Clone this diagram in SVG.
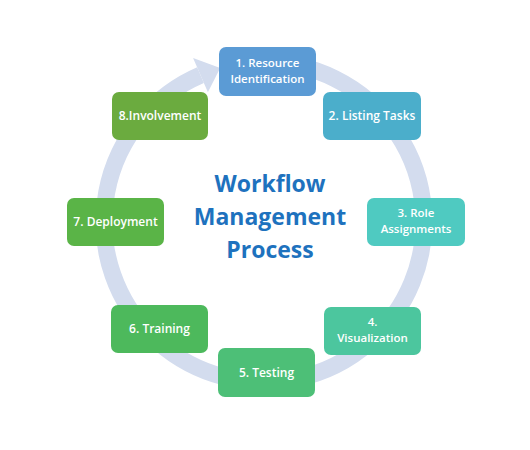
<svg xmlns="http://www.w3.org/2000/svg" width="530" height="450" viewBox="0 0 530 450">
  <style>
    .box { stroke: none; }
    .lbl { font-family: "Open Sans", "Liberation Sans", sans-serif; font-size: 12px; font-weight: 600; fill: #ffffff; text-anchor: middle; }
    .lbl2 { font-size: 11.5px; }
    .title { font-family: "Open Sans", "Liberation Sans", sans-serif; font-size: 23px; font-weight: 700; fill: #1E72BE; text-anchor: middle; }
    .ring { fill: none; stroke: #D3DCEE; stroke-width: 17; }
    .head { fill: #D3DCEE; }
  </style>
  <rect width="530" height="450" fill="#ffffff"/>
  <g id="connectors">
    <path class="ring" d="M 264 62 A 160 160 0 1 1 200.5 75.1"/>
    <polygon class="head" points="193.1,58 220.2,68.1 207.9,92.3"/>
  </g>
  <g id="title">
    <text class="title" x="270" y="192">Workflow</text>
    <text class="title" x="270" y="225">Management</text>
    <text class="title" x="270" y="258">Process</text>
  </g>
  <g id="node1">
    <rect class="box" x="219" y="47" width="97" height="49" rx="7" fill="#5B9BD5"/>
    <text class="lbl lbl2" x="267.5" y="67">1. Resource</text>
    <text class="lbl lbl2" x="267.5" y="83">Identification</text>
  </g>
  <g id="node2">
    <rect class="box" x="323" y="92" width="98" height="48" rx="7" fill="#4BAECB"/>
    <text class="lbl" x="372" y="120">2. Listing Tasks</text>
  </g>
  <g id="node3">
    <rect class="box" x="367" y="198" width="98" height="48" rx="7" fill="#4FCAC1"/>
    <text class="lbl lbl2" x="416" y="217">3. Role</text>
    <text class="lbl lbl2" x="416" y="233">Assignments</text>
  </g>
  <g id="node4">
    <rect class="box" x="324" y="307" width="97" height="48" rx="7" fill="#4CC69E"/>
    <text class="lbl lbl2" x="372.5" y="326">4.</text>
    <text class="lbl lbl2" x="372.5" y="342">Visualization</text>
  </g>
  <g id="node5">
    <rect class="box" x="218" y="348" width="97" height="49" rx="7" fill="#4DBF77"/>
    <text class="lbl" x="266.5" y="376.5">5. Testing</text>
  </g>
  <g id="node6">
    <rect class="box" x="111" y="305" width="97" height="48" rx="7" fill="#4DB95C"/>
    <text class="lbl" x="159.5" y="333">6. Training</text>
  </g>
  <g id="node7">
    <rect class="box" x="67" y="198" width="97" height="48" rx="7" fill="#5AB447"/>
    <text class="lbl" x="115.5" y="226">7. Deployment</text>
  </g>
  <g id="node8">
    <rect class="box" x="112" y="92" width="96" height="48" rx="7" fill="#6BAB3F"/>
    <text class="lbl" x="160" y="120">8.Involvement</text>
  </g>
</svg>
